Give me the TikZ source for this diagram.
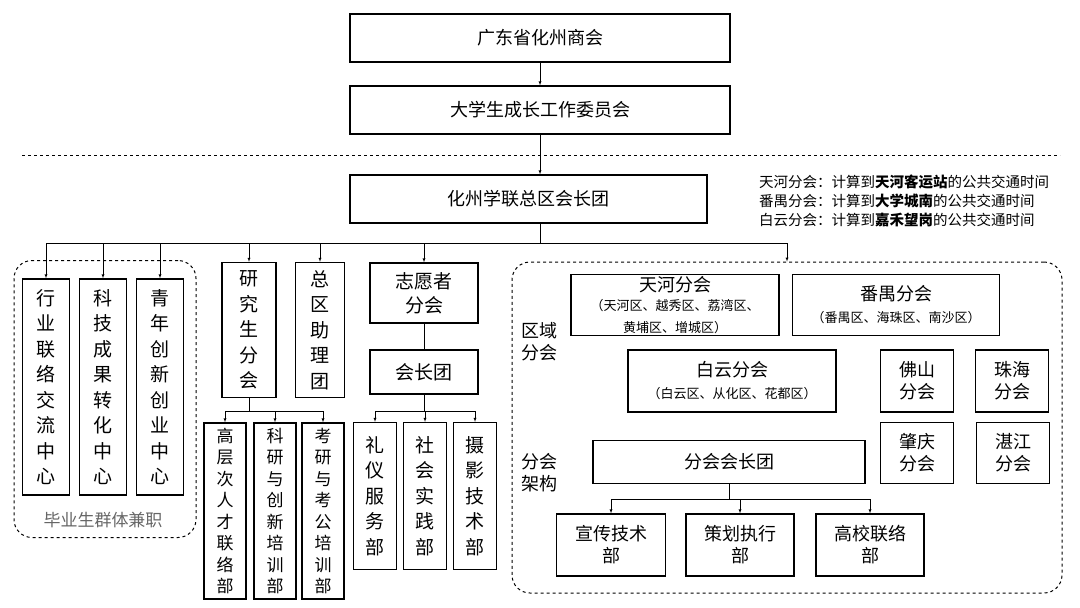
\documentclass[tikz,border=0pt]{standalone}
\usepackage{fontspec}
\setmainfont{Noto Sans CJK SC}
\usetikzlibrary{arrows}
\newcommand{\sml}{\fontsize{13}{16}\selectfont}
\begin{document}
\begin{tikzpicture}[x=1pt, y=-1pt]
	\tikzset{>=latex}
	\tikzset{box/.style={draw, line width=1.3pt, inner sep=0pt, align=center,
	    font=\fontsize{18}{22}\selectfont}}
	\tikzset{vbox/.style={box, font=\fontsize{19}{25.5}\selectfont}}
	\tikzset{sbox/.style={box, font=\fontsize{17}{21.5}\selectfont}}
	\tikzset{grp/.style={draw, dashed, line width=1pt, rounded corners=18pt, inner sep=0pt}}
	\useasboundingbox (0,0) rectangle (1080,608);

	% top of the chart
	\node[box, minimum width=380, minimum height=48] (gd) at (540,38) {广东省化州商会};
	\node[box, minimum width=380, minimum height=48] (wyh) at (540,110) {大学生成长工作委员会};
	\draw[dashed, line width=0.6pt] (22,155) -- (1060,155);
	\node[box, minimum width=357, minimum height=48] (main) at (528.5,199) {化州学联总区会长团};
	\draw[->] (gd) -- (wyh);
	\draw[->] (wyh.south) -- (wyh.south |- main.north);
	\node[anchor=north west, align=left, inner sep=0pt, font=\fontsize{14.5}{19}\selectfont] (note) at (759,175)
	    {天河分会：计算到\textbf{天河客运站}的公共交通时间\\
	     番禺分会：计算到\textbf{大学城南}的公共交通时间\\
	     白云分会：计算到\textbf{嘉禾望岗}的公共交通时间};

	% left part
	\node[grp, minimum width=182, minimum height=277] (jz) at (105,399) {};
	\node[font=\fontsize{17}{18}\selectfont, text=black!60] (jzt) at (103,520) {毕业生群体兼职};
	\foreach \name/\x/\txt in {hy/46/行\\业\\联\\络\\交\\流\\中\\心,
	    kj/103/科\\技\\成\\果\\转\\化\\中\\心, qn/160/青\\年\\创\\新\\创\\业\\中\\心} {
	    \node[vbox, minimum width=47, minimum height=216] (\name) at (\x,387) {\txt};
	}
	\node[vbox, minimum width=54, minimum height=135] (yjs) at (249,330) {研\\究\\生\\分\\会};
	\node[vbox, minimum width=49, minimum height=135] (zq) at (320,330) {总\\区\\助\\理\\团};
	\node[box, minimum width=108, minimum height=60, font=\fontsize{19}{24}\selectfont] (zyz) at (424,293) {志愿者\\分会};
	\node[box, minimum width=108, minimum height=44, font=\fontsize{19}{24}\selectfont] (hzt) at (424,372) {会长团};
	\foreach \name/\x/\txt in {gc/225/高\\层\\次\\人\\才\\联\\络\\部,
	    ky/275/科\\研\\与\\创\\新\\培\\训\\部, kg/323/考\\研\\与\\考\\公\\培\\训\\部} {
	    \node[sbox, minimum width=42, minimum height=176] (\name) at (\x,511) {\txt};
	}
	\foreach \name/\x/\txt in {ly/375/礼\\仪\\服\\务\\部, sh/425/社\\会\\实\\践\\部, sy/475/摄\\影\\技\\术\\部} {
	    \node[vbox, minimum width=43, minimum height=147] (\name) at (\x,496) {\txt};
	}

	% right part
	\node[grp, minimum width=550, minimum height=331] (fh) at (787,427.5) {};
	\node[font=\fontsize{18}{22}\selectfont, align=center] (qy) at (539,342) {区域\\分会};
	\node[font=\fontsize{18}{22}\selectfont, align=center] (jg) at (539,473) {分会\\架构};
	\node[box, minimum width=208, minimum height=61] (th) at (675,305)
	    {天河分会\\[-3pt]\sml （天河区、越秀区、荔湾区、\\\sml 黄埔区、增城区）};
	\node[box, minimum width=207, minimum height=61] (py) at (896,305)
	    {番禺分会\\\sml （番禺区、海珠区、南沙区）};
	\node[box, minimum width=208, minimum height=62] (by) at (732,381)
	    {白云分会\\\sml （白云区、从化区、花都区）};
	\node[box, minimum width=73, minimum height=62] (fs) at (917,381) {佛山\\分会};
	\node[box, minimum width=73, minimum height=62] (zh) at (1012,381) {珠海\\分会};
	\node[box, minimum width=73, minimum height=61] (zqf) at (917,453) {肇庆\\分会};
	\node[box, minimum width=73, minimum height=61] (zj) at (1013,453) {湛江\\分会};
	\node[box, minimum width=272, minimum height=43] (fhz) at (729,462) {分会会长团};
	\node[box, minimum width=109, minimum height=62] (xc) at (611,545) {宣传技术\\部};
	\node[box, minimum width=108, minimum height=62] (ch) at (740,545) {策划执行\\部};
	\node[box, minimum width=108, minimum height=62] (gx) at (870,545) {高校联络\\部};

	% connectors
	\coordinate (bus) at (540,243);
	\draw (bus |- main.south) -- (bus);
	\foreach \n in {hy, kj, qn, yjs, zq, zyz, fh} {
	    \draw[->] (bus) -| (\n.north);
	}
	\draw (zyz) -- (hzt);
	\coordinate (gbus) at (249,411);
	\draw (yjs) -- (gbus);
	\foreach \n in {gc, ky, kg} {
	    \draw[->] (gbus) -| (\n.north);
	}
	\coordinate (vbus) at (424,411);
	\draw (hzt) -- (vbus);
	\foreach \n in {ly, sh, sy} {
	    \draw[->] (vbus) -| (\n.north);
	}
	\coordinate (fbus) at (729,499);
	\draw (fhz) -- (fbus);
	\foreach \n in {xc, ch, gx} {
	    \draw[->] (fbus) -| (\n.north);
	}
\end{tikzpicture}
\end{document}
